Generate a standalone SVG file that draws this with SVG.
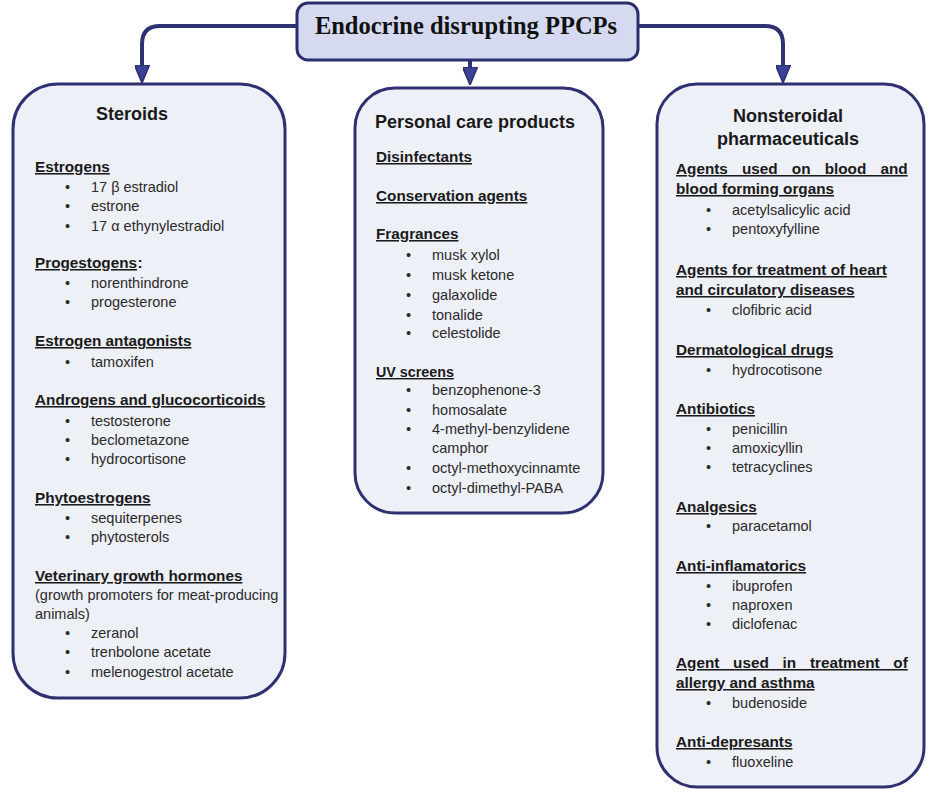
<svg xmlns="http://www.w3.org/2000/svg" width="931" height="792" viewBox="0 0 931 792">
<defs>
<style>
.box{fill:#eef0f8;stroke:#2e3170;stroke-width:3}
.top{fill:#d6daf0;stroke:#2b2e6e;stroke-width:3}
.conn{fill:none;stroke:#2f3270;stroke-width:4}
.ttl{font-family:"Liberation Serif","Times New Roman",serif;font-weight:bold;font-size:24.5px;fill:#111}
.h1{font-family:"Liberation Sans",Arial,sans-serif;font-weight:bold;font-size:18px;fill:#1a1a1a}
.h2{font-family:"Liberation Sans",Arial,sans-serif;font-weight:bold;font-size:15.3px;fill:#1a1a1a;text-decoration:underline}
.h2n{font-family:"Liberation Sans",Arial,sans-serif;font-weight:bold;font-size:15.3px;fill:#1a1a1a}
.it{font-family:"Liberation Sans",Arial,sans-serif;font-size:14.5px;fill:#2a2a2a}
</style>
<marker id="ah" viewBox="0 0 18 15" refX="2" refY="7.5" markerWidth="18" markerHeight="15" markerUnits="userSpaceOnUse" orient="auto">
<path d="M0,0 L18,7.5 L0,15 z" fill="#3b4194" stroke="#2b2e6e" stroke-width="1.5"/>
</marker>
</defs>
<rect x="0" y="0" width="931" height="792" fill="#ffffff"/>

<g id="connectors">
<path class="conn" d="M297 26 H160 Q142 26 142 44 V67" marker-end="url(#ah)"/>
<path class="conn" d="M638 26 H765 Q783 26 783 44 V67" marker-end="url(#ah)"/>
<path class="conn" d="M470 60 V69" marker-end="url(#ah)"/>
</g>

<g id="root">
<rect class="top" x="297" y="3" width="341" height="57" rx="11"/>
<text class="ttl" x="466" y="34" text-anchor="middle">Endocrine disrupting PPCPs</text>
</g>

<g id="steroids">
<rect class="box" x="13" y="84" width="272" height="614" rx="45"/>
<text class="h1" x="132" y="120" text-anchor="middle">Steroids</text>
<text class="h2" x="35" y="172">Estrogens</text>
<text class="it" y="192"><tspan x="65">•</tspan><tspan x="91">17 β estradiol</tspan></text>
<text class="it" y="211"><tspan x="65">•</tspan><tspan x="91">estrone</tspan></text>
<text class="it" y="231"><tspan x="65">•</tspan><tspan x="91">17 α ethynylestradiol</tspan></text>
<text class="h2" x="35" y="268">Progestogens</text>
<text class="h2n" x="137.5" y="268">:</text>
<text class="it" y="288"><tspan x="65">•</tspan><tspan x="91">norenthindrone</tspan></text>
<text class="it" y="307"><tspan x="65">•</tspan><tspan x="91">progesterone</tspan></text>
<text class="h2" x="35" y="346">Estrogen antagonists</text>
<text class="it" y="367"><tspan x="65">•</tspan><tspan x="91">tamoxifen</tspan></text>
<text class="h2" x="35" y="405">Androgens and glucocorticoids</text>
<text class="it" y="426"><tspan x="65">•</tspan><tspan x="91">testosterone</tspan></text>
<text class="it" y="445"><tspan x="65">•</tspan><tspan x="91">beclometazone</tspan></text>
<text class="it" y="464"><tspan x="65">•</tspan><tspan x="91">hydrocortisone</tspan></text>
<text class="h2" x="35" y="503">Phytoestrogens</text>
<text class="it" y="523"><tspan x="65">•</tspan><tspan x="91">sequiterpenes</tspan></text>
<text class="it" y="542"><tspan x="65">•</tspan><tspan x="91">phytosterols</tspan></text>
<text class="h2" x="35" y="581">Veterinary growth hormones</text>
<text class="it" x="35" y="600">(growth promoters for meat-producing</text>
<text class="it" x="35" y="619">animals)</text>
<text class="it" y="638"><tspan x="65">•</tspan><tspan x="91">zeranol</tspan></text>
<text class="it" y="657"><tspan x="65">•</tspan><tspan x="91">trenbolone acetate</tspan></text>
<text class="it" y="677"><tspan x="65">•</tspan><tspan x="91">melenogestrol acetate</tspan></text>
</g>

<g id="personal-care">
<rect class="box" x="355" y="88" width="248" height="425" rx="40"/>
<text class="h1" x="375" y="128">Personal care products</text>
<text class="h2" x="376" y="162">Disinfectants</text>
<text class="h2" x="376" y="201">Conservation agents</text>
<text class="h2" x="376" y="239">Fragrances</text>
<text class="it" y="260"><tspan x="406">•</tspan><tspan x="432">musk xylol</tspan></text>
<text class="it" y="280"><tspan x="406">•</tspan><tspan x="432">musk ketone</tspan></text>
<text class="it" y="300"><tspan x="406">•</tspan><tspan x="432">galaxolide</tspan></text>
<text class="it" y="320"><tspan x="406">•</tspan><tspan x="432">tonalide</tspan></text>
<text class="it" y="338"><tspan x="406">•</tspan><tspan x="432">celestolide</tspan></text>
<text class="h2" x="376" y="377" style="font-size:14.3px">UV screens</text>
<text class="it" y="395"><tspan x="406">•</tspan><tspan x="432">benzophenone-3</tspan></text>
<text class="it" y="415"><tspan x="406">•</tspan><tspan x="432">homosalate</tspan></text>
<text class="it" y="434"><tspan x="406">•</tspan><tspan x="432">4-methyl-benzylidene</tspan></text>
<text class="it" x="432" y="453">camphor</text>
<text class="it" y="473"><tspan x="406">•</tspan><tspan x="432">octyl-methoxycinnamte</tspan></text>
<text class="it" y="493"><tspan x="406">•</tspan><tspan x="432">octyl-dimethyl-PABA</tspan></text>
</g>

<g id="nonsteroidal">
<rect class="box" x="657" y="84" width="267" height="703" rx="40"/>
<text class="h1" x="788" y="122" text-anchor="middle">Nonsteroidal</text>
<text class="h1" x="788" y="145" text-anchor="middle">pharmaceuticals</text>
<text class="h2" x="676" y="174" word-spacing="9.9">Agents used on blood and</text>
<text class="h2" x="676" y="194">blood forming organs</text>
<text class="it" y="215"><tspan x="706">•</tspan><tspan x="732">acetylsalicylic acid</tspan></text>
<text class="it" y="234"><tspan x="706">•</tspan><tspan x="732">pentoxyfylline</tspan></text>
<text class="h2" x="676" y="275">Agents for treatment of heart</text>
<text class="h2" x="676" y="295">and circulatory diseases</text>
<text class="it" y="315"><tspan x="706">•</tspan><tspan x="732">clofibric acid</tspan></text>
<text class="h2" x="676" y="355">Dermatological drugs</text>
<text class="it" y="375"><tspan x="706">•</tspan><tspan x="732">hydrocotisone</tspan></text>
<text class="h2" x="676" y="414">Antibiotics</text>
<text class="it" y="434"><tspan x="706">•</tspan><tspan x="732">penicillin</tspan></text>
<text class="it" y="453"><tspan x="706">•</tspan><tspan x="732">amoxicyllin</tspan></text>
<text class="it" y="472"><tspan x="706">•</tspan><tspan x="732">tetracyclines</tspan></text>
<text class="h2" x="676" y="512">Analgesics</text>
<text class="it" y="531"><tspan x="706">•</tspan><tspan x="732">paracetamol</tspan></text>
<text class="h2" x="676" y="571">Anti-inflamatorics</text>
<text class="it" y="591"><tspan x="706">•</tspan><tspan x="732">ibuprofen</tspan></text>
<text class="it" y="610"><tspan x="706">•</tspan><tspan x="732">naproxen</tspan></text>
<text class="it" y="629"><tspan x="706">•</tspan><tspan x="732">diclofenac</tspan></text>
<text class="h2" x="676" y="668" word-spacing="9.5">Agent used in treatment of</text>
<text class="h2" x="676" y="688">allergy and asthma</text>
<text class="it" y="708"><tspan x="706">•</tspan><tspan x="732">budenoside</tspan></text>
<text class="h2" x="676" y="747">Anti-depresants</text>
<text class="it" y="767"><tspan x="706">•</tspan><tspan x="732">fluoxeline</tspan></text>
</g>
</svg>
